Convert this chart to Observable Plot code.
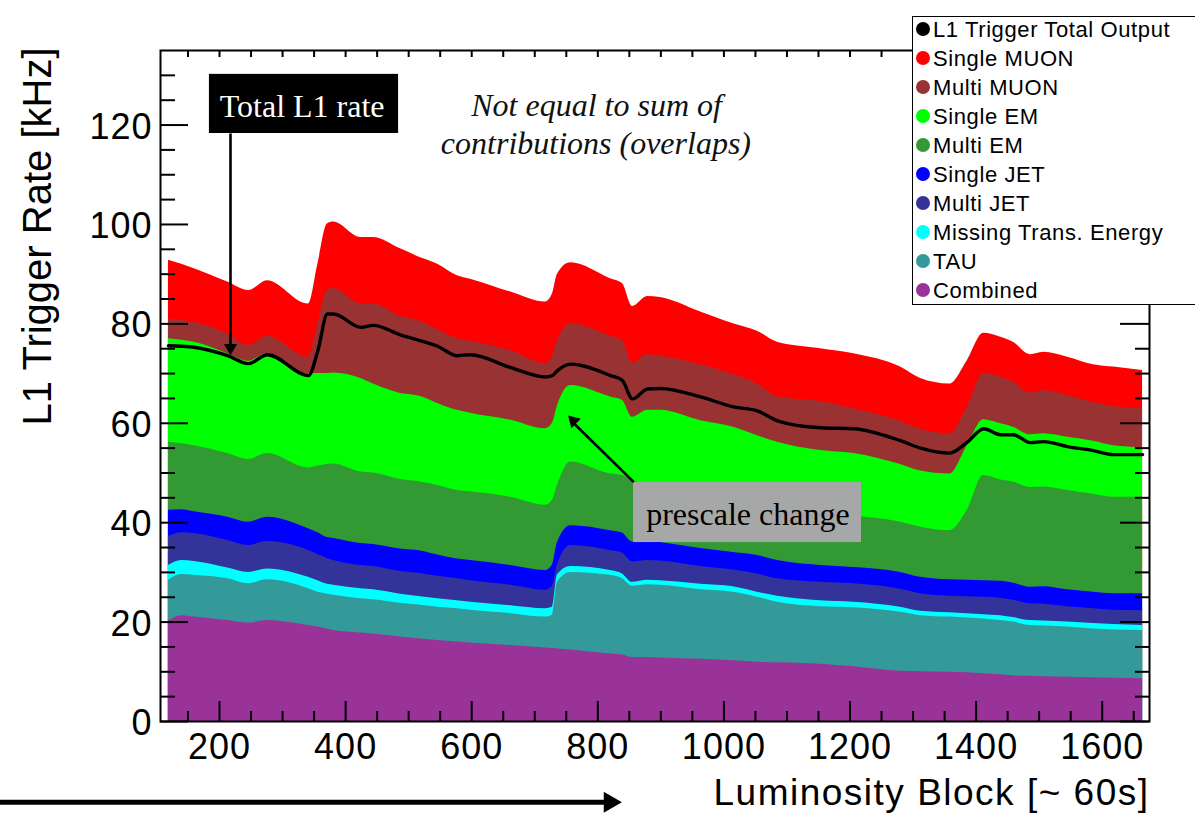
<!DOCTYPE html>
<html><head><meta charset="utf-8">
<script src="https://cdn.jsdelivr.net/npm/d3@7"></script>
<script src="https://cdn.jsdelivr.net/npm/@observablehq/plot@0.6"></script>
<style>
body{margin:0;background:#fff;}
#wrap{position:relative;width:1195px;height:813px;overflow:hidden;background:#fff;}
#wrap svg{position:absolute;left:0;top:0;}
#legend{position:absolute;left:912px;top:16px;width:300px;height:289px;border:1.5px solid #000;background:#fff;box-sizing:border-box;}
.row{position:absolute;left:0;height:29px;line-height:29px;font-size:22px;font-family:"Liberation Sans",Arial,sans-serif;letter-spacing:0.6px;white-space:nowrap;color:#000;}
.dot{position:absolute;width:14px;height:14px;border-radius:50%;}
</style></head><body><div id="wrap"></div>
<script>
// ---- data ----
const lumiBlock = [119, 140, 160, 213, 246, 276, 341, 356, 371, 381, 424, 444, 487, 519, 546, 577, 598, 662, 717, 728, 736, 757, 820, 839, 855, 879, 899, 963, 1015, 1053, 1085, 1153, 1206, 1280, 1312, 1358, 1386, 1412, 1439, 1459, 1486, 1507, 1545, 1586, 1618, 1664];
// cumulative (stacked) upper edge of each contribution, kHz
const topSingleMuon = [92.8, 92.0, 91.1, 88.4, 86.7, 88.7, 84.0, 92.0, 100.1, 100.5, 97.4, 97.4, 95.1, 93.3, 92.0, 89.7, 89.0, 86.4, 84.4, 86.0, 90.0, 92.3, 89.1, 88.1, 83.5, 85.5, 85.3, 82.4, 80.0, 78.5, 76.3, 75.0, 74.0, 71.3, 69.0, 67.9, 72.6, 78.1, 77.3, 76.3, 73.8, 74.3, 73.3, 71.8, 71.3, 70.6];
const topMultiMuon  = [81.0, 80.7, 80.3, 78.0, 75.6, 77.5, 73.3, 80.0, 86.7, 87.1, 84.0, 84.0, 81.5, 80.5, 78.8, 77.0, 76.5, 74.6, 72.0, 73.5, 76.5, 80.0, 77.5, 76.6, 72.1, 73.8, 73.5, 71.8, 69.8, 67.9, 65.3, 64.4, 62.9, 60.4, 58.8, 57.9, 63.2, 70.0, 69.3, 68.3, 66.1, 66.6, 65.6, 64.2, 63.4, 62.9];
const topSingleEM   = [77.0, 76.7, 76.3, 74.0, 72.5, 74.0, 70.0, 70.0, 70.0, 70.1, 69.0, 67.9, 66.0, 65.4, 64.0, 62.6, 62.0, 60.6, 58.9, 60.0, 63.5, 67.6, 65.3, 64.6, 61.2, 62.6, 62.6, 60.5, 59.2, 57.5, 56.2, 54.5, 53.9, 51.7, 50.4, 49.8, 55.5, 60.7, 59.9, 59.2, 57.7, 57.9, 57.2, 56.4, 55.5, 55.1];
const topMultiEM    = [56.2, 55.9, 55.5, 53.9, 52.7, 53.9, 51.0, 51.4, 51.7, 51.8, 50.2, 50.0, 48.7, 48.2, 47.5, 46.5, 46.2, 45.1, 43.5, 44.5, 47.5, 52.2, 49.8, 49.5, 48.5, 47.6, 47.2, 45.8, 44.8, 44.0, 43.4, 42.3, 41.4, 40.1, 39.1, 38.4, 42.5, 49.5, 48.6, 48.2, 47.1, 47.2, 46.5, 45.7, 45.1, 45.1];
const topSingleJet  = [42.5, 42.6, 42.2, 41.1, 40.1, 41.1, 38.8, 38.0, 37.0, 36.8, 35.8, 35.6, 34.7, 34.3, 33.5, 32.7, 32.4, 31.4, 30.4, 31.5, 36.0, 39.4, 38.4, 37.9, 36.1, 36.4, 36.0, 34.8, 34.0, 33.4, 32.4, 31.4, 31.0, 30.0, 29.0, 28.5, 28.4, 28.3, 28.2, 27.8, 27.0, 27.1, 26.5, 26.0, 25.7, 25.7];
const topMultiJet   = [37.2, 38.0, 37.8, 36.4, 35.4, 36.2, 34.4, 33.6, 32.8, 32.4, 31.4, 31.2, 30.2, 29.8, 29.2, 28.7, 28.3, 27.4, 26.4, 27.2, 31.5, 35.4, 34.4, 33.9, 32.1, 32.4, 32.3, 31.2, 30.5, 29.7, 28.7, 28.0, 27.7, 26.6, 25.7, 25.2, 25.1, 25.0, 24.8, 24.4, 23.7, 23.6, 23.1, 22.7, 22.4, 22.3];
const topMET        = [31.4, 32.4, 32.2, 30.9, 30.0, 30.7, 29.0, 28.3, 27.6, 27.4, 26.7, 26.5, 25.6, 25.1, 24.7, 24.3, 24.0, 23.3, 22.7, 23.0, 29.5, 31.2, 30.4, 29.7, 28.0, 28.4, 28.3, 27.6, 27.1, 26.0, 25.2, 24.3, 24.0, 23.0, 22.2, 21.9, 21.7, 21.5, 21.3, 20.9, 20.3, 20.2, 20.0, 19.7, 19.5, 19.3];
const topTau        = [28.4, 29.6, 29.4, 28.7, 27.7, 28.5, 26.7, 26.0, 25.6, 25.4, 24.7, 24.5, 23.8, 23.4, 23.0, 22.7, 22.4, 21.7, 21.0, 21.4, 28.0, 30.0, 29.4, 28.7, 27.2, 27.5, 27.4, 26.5, 26.0, 25.0, 24.0, 23.1, 22.9, 22.0, 21.3, 21.0, 20.8, 20.6, 20.3, 20.0, 19.3, 19.2, 19.0, 18.6, 18.4, 18.3];
const topCombined   = [20.2, 21.3, 21.0, 20.3, 19.8, 20.3, 19.3, 19.0, 18.6, 18.3, 17.8, 17.6, 17.0, 16.6, 16.3, 16.0, 15.8, 15.3, 14.8, 14.7, 14.6, 14.4, 13.6, 13.4, 12.9, 12.9, 12.8, 12.5, 12.2, 11.9, 11.8, 11.5, 11.0, 10.1, 10.0, 9.9, 9.8, 9.6, 9.4, 9.2, 9.1, 9.0, 8.9, 8.8, 8.7, 8.6];
const totalOutput   = [75.6, 75.5, 75.3, 73.6, 72.0, 73.8, 69.6, 74.6, 82.0, 82.0, 79.3, 79.7, 77.8, 76.6, 75.5, 73.6, 73.8, 71.2, 69.3, 69.6, 70.6, 71.9, 69.6, 68.6, 64.9, 66.9, 67.0, 65.3, 63.3, 62.5, 60.5, 59.1, 58.9, 56.5, 55.0, 54.0, 56.2, 58.9, 57.7, 57.7, 56.1, 56.3, 55.3, 54.5, 53.7, 53.7];

const legendLabels = ["L1 Trigger Total Output", "Single MUON", "Multi MUON", "Single EM", "Multi EM", "Single JET", "Multi JET", "Missing Trans. Energy", "TAU", "Combined"];
const legendColors = ["#000000", "#ff0000", "#993333", "#00ff00", "#339933", "#0000ff", "#333399", "#00ffff", "#339999", "#993399"];

const yTickLabels = [0, 20, 40, 60, 80, 100, 120];
const xTickLabels = [200, 400, 600, 800, 1000, 1200, 1400, 1600];

// ---- build ----
const series = [topSingleMuon, topMultiMuon, topSingleEM, topMultiEM, topSingleJet, topMultiJet, topMET, topTau, topCombined];
const rows = lumiBlock.map((x, i) => {
  const r = {lb: x, total: totalOutput[i]};
  series.forEach((s, k) => r["s" + k] = s[i]);
  return r;
});

const W = 1195, H = 813, mL = 160, mR = 46, mT = 50, mB = 92;
const pw = W - mL - mR, ph = H - mT - mB;
const sans = "'Liberation Sans', Arial, Helvetica, sans-serif";
const serif = "'Liberation Serif', 'Times New Roman', serif";

const yMinor = d3.range(5, 135, 5).filter(v => !yTickLabels.includes(v));
const xMinor = d3.range(150, 1675, 50).filter(v => !xTickLabels.includes(v));
const xAllTicks = d3.range(150, 1675, 50);

// annotation geometry (data units)
const boxes = [
  {x1: 184, x2: 484, y1: 118.3, y2: 130.2, fill: "#000000"},
  {x1: 856.6, x2: 1218.2, y1: 36.0, y2: 48.1, fill: "#a6a8a7"}
];
const shafts = [
  {x1: 217.4, y1: 118.3, x2: 217.4, y2: 75.6, w: 2.6},
  {x1: 857.1, y1: 48.15, x2: 761.8, y2: 60.0, w: 2.6},
  {x1: -150, y1: -16.24, x2: 819, y2: -16.24, w: 5}
];
const heads = [
  {x: 217.4, y: 75.2, r: 6.3, rot: 180},
  {x: 761.3, y: 60.5, r: 6.3, rot: -45},
  {x: 819, y: -16.24, r: 10, rot: 90}
];
const serifTexts = [
  {x: 331, y: 121.6, text: "Total L1 rate", fill: "#ffffff", style: "normal"},
  {x: 1038, y: 39.44, text: "prescale change", fill: "#000000", style: "normal"},
  {x: 798, y: 121.9, text: "Not equal to sum of", fill: "#111111", style: "italic"},
  {x: 797, y: 114.1, text: "contributions (overlaps)", fill: "#111111", style: "italic"}
];

const marks = [];
series.forEach((s, k) => {
  marks.push(Plot.areaY(rows, {x: "lb", y1: 0, y2: "s" + k, fill: legendColors[k + 1], curve: "monotone-x"}));
});
marks.push(Plot.line(rows, {x: "lb", y: "total", stroke: "#000", strokeWidth: 3.4, curve: "monotone-x"}));

// ticks (inward, ROOT style)
marks.push(Plot.tickY(yTickLabels, {y: d => d, insetRight: pw - 28, stroke: "#000", strokeWidth: 2}));
marks.push(Plot.tickY(yMinor, {y: d => d, insetRight: pw - 15, stroke: "#000", strokeWidth: 2}));
marks.push(Plot.tickY(yTickLabels, {y: d => d, insetLeft: pw - 29, stroke: "#000", strokeWidth: 2}));
marks.push(Plot.tickY(yMinor, {y: d => d, insetLeft: pw - 14, stroke: "#000", strokeWidth: 2}));
marks.push(Plot.tickX(xTickLabels, {x: d => d, insetTop: ph - 20, stroke: "#000", strokeWidth: 2}));
marks.push(Plot.tickX(xMinor, {x: d => d, insetTop: ph - 10, stroke: "#000", strokeWidth: 2}));
marks.push(Plot.tickX(xAllTicks, {x: d => d, insetBottom: ph - 7, stroke: "#000", strokeWidth: 2}));
marks.push(Plot.frame({stroke: "#000", strokeWidth: 2}));

marks.push(Plot.axisY({ticks: yTickLabels, tickSize: 0, tickPadding: 8, fontSize: 36, label: null, dy: 2}));
marks.push(Plot.axisX({ticks: xTickLabels, tickSize: 0, tickPadding: 12, fontSize: 36, label: null, tickFormat: d => String(d)}));

marks.push(Plot.text(["L1 Trigger Rate [kHz]"], {text: d => d, frameAnchor: "top-left", rotate: -90, textAnchor: "end", lineAnchor: "bottom", dx: -110, dy: -3, fontSize: 40, fontFamily: sans, fill: "#000"}));
marks.push(Plot.text(["Luminosity Block [~ 60s]"], {text: d => d, frameAnchor: "bottom-right", textAnchor: "end", lineAnchor: "bottom", dx: 0, dy: 83, fontSize: 37, fontFamily: sans, fill: "#000"}));

// annotations
marks.push(Plot.rect(boxes, {x1: "x1", x2: "x2", y1: "y1", y2: "y2", fill: "fill"}));
marks.push(Plot.link(shafts, {x1: "x1", y1: "y1", x2: "x2", y2: "y2", stroke: "#000", strokeWidth: "w"}));
marks.push(Plot.dot(heads, {x: "x", y: "y", r: "r", rotate: "rot", symbol: "triangle2", fill: "#000", stroke: "none"}));
marks.push(Plot.text(serifTexts.filter(d => d.style === "normal"), {x: "x", y: "y", text: "text", fill: "fill", fontFamily: serif, fontSize: 32, textAnchor: "middle", lineAnchor: "bottom"}));
marks.push(Plot.text(serifTexts.filter(d => d.style === "italic"), {x: "x", y: "y", text: "text", fill: "fill", fontFamily: serif, fontStyle: "italic", fontSize: 32, textAnchor: "middle", lineAnchor: "bottom"}));

const chart = Plot.plot({
  width: W, height: H,
  marginLeft: mL, marginRight: mR, marginTop: mT, marginBottom: mB,
  x: {domain: [106.4, 1675]},
  y: {domain: [0, 135]},
  r: {type: "identity"},
  style: {fontFamily: sans, fontSize: "36px", background: "white", color: "black", overflow: "visible"},
  marks
});

const wrap = document.getElementById("wrap");
wrap.appendChild(chart);
const svg = d3.select(chart);
svg.selectAll('g[aria-label="x-axis tick label"] text, g[aria-label="y-axis tick label"] text').attr("letter-spacing", "1px");
svg.selectAll("text").filter(function() { return this.textContent === "Luminosity Block [~ 60s]"; }).attr("letter-spacing", "1.5px");

// legend
const leg = document.createElement("div");
leg.id = "legend";
wrap.appendChild(leg);
legendLabels.forEach((lab, i) => {
  const baseline = 37.3 + i * 29;
  const top = baseline - 22.1;
  const row = document.createElement("div");
  row.className = "row";
  row.style.top = top + "px";
  row.style.left = "933px";
  row.textContent = lab;
  wrap.appendChild(row);
  const dot = document.createElement("div");
  dot.className = "dot";
  dot.style.left = "916px";
  dot.style.top = (baseline - 8 - 7) + "px";
  dot.style.background = legendColors[i];
  wrap.appendChild(dot);
});
</script></body></html>
